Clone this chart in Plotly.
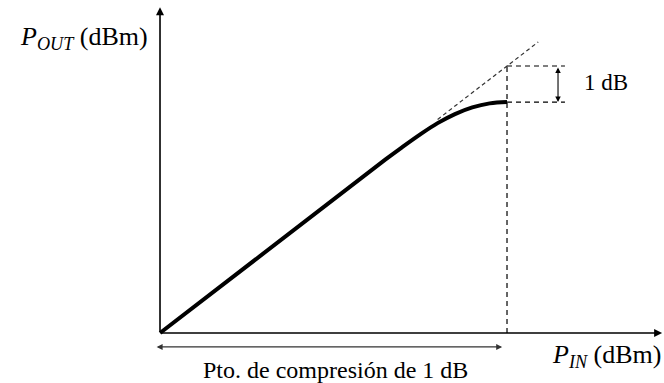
import plotly.graph_objects as go

# Diagram data (arbitrary dBm-like units)
pin_curve = [0, 6.5, 7.0, 7.5, 8.0, 8.5, 9.0, 9.5, 10.0]
pout_curve = [0, 6.5, 6.98, 7.44, 7.86, 8.2, 8.45, 8.6, 8.65]
pin_ext = [8.0, 10.9]
pout_ext = [8.0, 10.9]
p1db_in = 10.0
p1db_linear = 10.0
p1db_out = 8.65
x_max = 14.47
y_max = 12.2

FONT = "Liberation Serif, Times New Roman, serif"
fig = go.Figure()

fig.add_trace(go.Scatter(x=pin_curve, y=pout_curve, mode="lines", line=dict(color="black", width=4, shape="spline"),
                         hoverinfo="skip"))
fig.add_trace(go.Scatter(x=pin_ext, y=pout_ext, mode="lines", line=dict(color="#333", width=1.2, dash="4px,3px"),
                         hoverinfo="skip"))
# vertical dashed
fig.add_trace(go.Scatter(x=[p1db_in, p1db_in], y=[0, p1db_linear], mode="lines",
                         line=dict(color="black", width=1.2, dash="5px,4px"), hoverinfo="skip"))
# horizontal dashed
for yy in [p1db_linear, p1db_out]:
    fig.add_trace(go.Scatter(x=[p1db_in, 11.67], y=[yy, yy], mode="lines",
                             line=dict(color="black", width=1.2, dash="5px,4px"), hoverinfo="skip"))

ann = []
# axes
ann.append(dict(x=0, y=y_max, ax=0, ay=0, xref="x", yref="y", axref="x", ayref="y", showarrow=True,
                arrowhead=2, arrowsize=1, arrowwidth=1.6, arrowcolor="black", text=""))
ann.append(dict(x=x_max, y=0, ax=0, ay=0, xref="x", yref="y", axref="x", ayref="y", showarrow=True,
                arrowhead=2, arrowsize=1, arrowwidth=1.6, arrowcolor="black", text=""))
# 1 dB double arrow
ann.append(dict(x=11.47, y=p1db_out, ax=11.47, ay=p1db_linear, xref="x", yref="y", axref="x", ayref="y",
                showarrow=True, arrowhead=2, arrowside="end+start", arrowsize=1, arrowwidth=1.1,
                arrowcolor="black", text=""))
# bottom double arrow
ann.append(dict(x=9.86, y=-0.52, ax=-0.14, ay=-0.52, xref="x", yref="y", axref="x", ayref="y",
                showarrow=True, arrowhead=2, arrowside="end+start", arrowsize=1, arrowwidth=1.2,
                arrowcolor="#333", text=""))
# texts
ann.append(dict(x=12.85, y=9.4, xref="x", yref="y", showarrow=False, text="1 dB",
                font=dict(family=FONT, size=23, color="black")))
ann.append(dict(x=5.05, y=-1.4, xref="x", yref="y", showarrow=False, text="Pto. de compresión de 1 dB",
                font=dict(family=FONT, size=24, color="black")))
ann.append(dict(x=14.5, y=-0.85, xref="x", yref="y", showarrow=False, xanchor="right",
                text="<i>P</i><sub><i>IN</i></sub> (dBm)", font=dict(family=FONT, size=26, color="black")))
ann.append(dict(x=-0.3, y=11.05, xref="x", yref="y", showarrow=False, xanchor="right",
                text="<i>P</i><sub><i>OUT</i></sub> (dBm)", font=dict(family=FONT, size=26, color="black")))

fig.update_layout(
    width=664, height=383, margin=dict(l=0, r=0, t=0, b=0),
    paper_bgcolor="white", plot_bgcolor="white", showlegend=False,
    xaxis=dict(range=[-4.611, 14.524], visible=False, fixedrange=True),
    yaxis=dict(range=[-1.873, 12.472], visible=False, fixedrange=True),
    annotations=ann,
)
fig.write_html("out.html", config={"displayModeBar": False},
               post_script="document.body.style.margin='0';document.body.style.padding='0';")
